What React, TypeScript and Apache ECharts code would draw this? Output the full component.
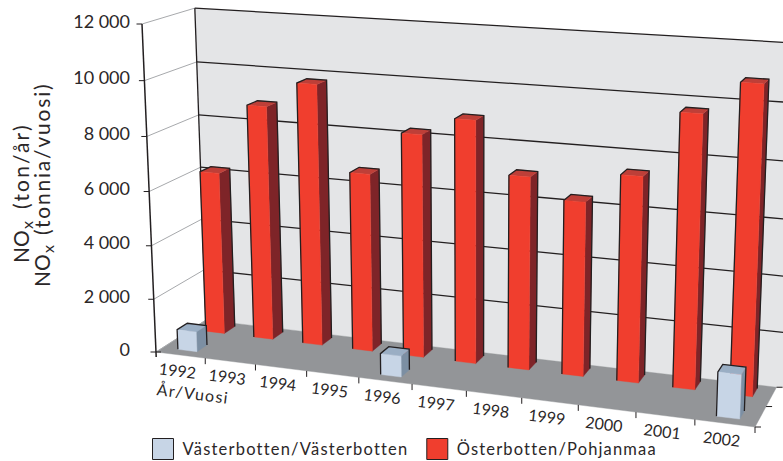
import React, { useEffect, useRef } from "react";
import * as echarts from "echarts";

const years = [1992, 1993, 1994, 1995, 1996, 1997, 1998, 1999, 2000, 2001, 2002];
const osterbotten = [6150, 8780, 9725, 6610, 8200, 8860, 7010, 6290, 7360, 9660, 10800];
const vasterbotten: (number | null)[] = [750, null, null, null, 770, null, null, null, null, null, 1540];
const yTicks = [0, 2000, 4000, 6000, 8000, 10000, 12000];
const yTickLabels = ["0", "2 000", "4 000", "6 000", "8 000", "10 000", "12 000"];

const INK = "#231F20";
const TEXT = "#2b2728";
const FONT = "Lato";

// projective camera: image of the box corners
const GL = 156, GT = 24, GW = 599, GH = 328;
const A = [156, 352], E = [755, 427], B = [142, 24], C = [206, 320];
const sx = 0.896, sy = 0.958, sz = 1.0538;

function project(u: number, v: number, w: number): number[] {
  const W = 1 + u * (sx - 1) + v * (sy - 1) + w * (sz - 1);
  const x = A[0] + u * (sx * E[0] - A[0]) + v * (sy * B[0] - A[0]) + w * (sz * C[0] - A[0]);
  const y = A[1] + u * (sx * E[1] - A[1]) + v * (sy * B[1] - A[1]) + w * (sz * C[1] - A[1]);
  return [x / W, y / W];
}

function at(api: any, year: number, value: number, w: number): number[] {
  const c = api.coord([year, value]);
  return project((c[0] - GL) / GW, (GT + GH - c[1]) / GH, w);
}

function poly(points: number[][], fill: string) {
  return { type: "polygon", shape: { points }, style: { fill, stroke: fill, lineWidth: 0.4 } };
}
function line(points: number[][], stroke: string, lineWidth = 1.2) {
  return { type: "polyline", shape: { points }, style: { fill: "none", stroke, lineWidth } };
}
function label(text: string, x: number, y: number, fontSize: number, extra: any = {}) {
  return {
    type: "text",
    x,
    y,
    rotation: extra.rotation || 0,
    style: {
      text,
      fontFamily: FONT,
      fontSize,
      fill: TEXT,
      align: extra.align || "center",
      verticalAlign: "middle",
    },
  };
}

const BAR_FROM = 0.305, BAR_TO = 0.695;

function box(api: any, year: number, value: number, w0: number, w1: number, front: string, side: string, top: string) {
  const x0 = year + BAR_FROM, x1 = year + BAR_TO;
  const fl0 = at(api, x0, 0, w0), fr0 = at(api, x1, 0, w0), br0 = at(api, x1, 0, w1);
  const fl1 = at(api, x0, value, w0), fr1 = at(api, x1, value, w0);
  const br1 = at(api, x1, value, w1), bl1 = at(api, x0, value, w1);
  return {
    type: "group",
    children: [
      poly([fr0, br0, br1, fr1], side),
      poly([fl1, fr1, br1, bl1], top),
      poly([fl0, fr0, fr1, fl1], front),
      line([fl0, fl1, bl1, br1, br0], INK, 1.3),
    ],
  };
}

const TILT = (-7 * Math.PI) / 180;
const UP = Math.PI / 2;

function axisTitle(x: number, y0: number, yParen: number, rest: string) {
  return [
    label("NO", x, y0, 21, { rotation: UP, align: "left" }),
    label("x", x + 6, y0 - 34, 16, { rotation: UP, align: "left" }),
    label(rest, x, yParen, 21, { rotation: UP, align: "left" }),
  ];
}

function renderFrame(_p: any, api: any) {
  const first = years[0], end = years[years.length - 1] + 1;
  const over = end + 0.4;
  const children: any[] = [];
  const top = yTicks[yTicks.length - 1];
  // back wall and floor
  children.push(poly([at(api, first, 0, 1), at(api, first, top, 1), at(api, over, top, 1), at(api, over, 0, 1)], "#E4E5E7"));
  children.push(poly([at(api, first, 0, 0), at(api, first, 0, 1), at(api, end, 0, 1), at(api, end, 0, 0)], "#939598"));
  yTicks.forEach((t, i) => {
    const f = at(api, first, t, 0), b = at(api, first, t, 1);
    children.push(line([f, b], "#A7A9AC", 1));
    if (t > 0) children.push(line([b, at(api, over, t, 1)], INK, 1.3));
    children.push(line([f, [f[0] - 5.5, f[1]]], INK, 1));
    children.push(label(yTickLabels[i], 130, f[1] - 3.5, 18, { align: "right" }));
  });
  children.push(line([at(api, first, top, 1), at(api, first, 0, 1)], INK, 1.3));
  const axisFoot = at(api, first, 0, 0);
  children.push(line([at(api, first, top, 0), [axisFoot[0] + 0.2, axisFoot[1] + 5]], INK, 1.5));
  children.push(line([axisFoot, [axisFoot[0] + 5, axisFoot[1]]], INK, 1));
  // year ticks and labels along the front edge of the floor
  years.forEach((y) => {
    const t = at(api, y + 1, 0, 0);
    children.push(line([t, [t[0], t[1] + 6]], INK, 1));
    const m = at(api, y + 0.5, 0, 0);
    children.push(label(String(y), m[0] - 3, m[1] + 15, 16, { rotation: TILT }));
  });
  // depth ticks on the right edge of the floor
  [0, 0.5, 1].forEach((w) => {
    const t = at(api, end, 0, w);
    children.push(line([t, [t[0] + 6, t[1]]], INK, 1));
  });
  children.push(label("År/Vuosi", 193, 393, 16, { rotation: TILT }));
  children.push(...axisTitle(20, 263, 209, "(ton/år)"));
  children.push(...axisTitle(41, 287, 235, "(tonnia/vuosi)"));
  return { type: "group", children };
}

function renderRed(_p: any, api: any) {
  return box(api, api.value(0), api.value(1), 0.695, 0.915, "#F03E2E", "#7E2428", "#BE3F38");
}
function renderBlue(_p: any, api: any) {
  return box(api, api.value(0), api.value(1), 0.135, 0.335, "#C7D5E6", "#7C8FA3", "#9AAEC4");
}

const SPACING: [string, string][] = [
  ["Västerbotten/Västerbotten", "1.2px"],
  ["Österbotten/Pohjanmaa", "1.15px"],
  ["År/Vuosi", "1.3px"],
  ["(ton/år)", "2.2px"],
  ["(tonnia/vuosi)", "1.8px"],
];

export default function App() {
  const ref = useRef<HTMLDivElement>(null);
  useEffect(() => {
    const chart = echarts.init(ref.current!, undefined, { renderer: "svg" });
    chart.setOption({
      animation: false,
      backgroundColor: "#fff",
      grid: { left: GL, top: GT, width: GW, height: GH },
      xAxis: { type: "value", min: years[0], max: years[years.length - 1] + 1, show: false },
      yAxis: { type: "value", min: yTicks[0], max: yTicks[yTicks.length - 1], interval: 2000, show: false },
      legend: {
        left: 152,
        top: 438,
        padding: 0,
        icon: "rect",
        itemWidth: 21,
        itemHeight: 21,
        itemGap: 49,
        data: ["Västerbotten/Västerbotten", "Österbotten/Pohjanmaa"],
        itemStyle: { borderColor: INK, borderWidth: 1 },
        textStyle: { fontFamily: FONT, fontSize: 16.5, color: TEXT, padding: [7, 0, 0, 4] },
        selectedMode: false,
      },
      series: [
        { type: "custom", name: "frame", z: 1, renderItem: renderFrame, data: [[years[0]]], silent: true },
        {
          type: "custom",
          name: "Österbotten/Pohjanmaa",
          z: 2,
          renderItem: renderRed,
          itemStyle: { color: "#F03E2E" },
          encode: { x: 0, y: 1 },
          data: years.map((y, i) => [y, osterbotten[i]]),
        },
        {
          type: "custom",
          name: "Västerbotten/Västerbotten",
          z: 3,
          renderItem: renderBlue,
          itemStyle: { color: "#C7D5E6" },
          encode: { x: 0, y: 1 },
          data: years.map((y, i) => [y, vasterbotten[i]]).filter((d) => d[1] !== null),
        },
      ],
    });
    // the reference's legend and axis names are letter-spaced
    ref.current!.querySelectorAll("text").forEach((t) => {
      const s = (t.textContent || "").trim();
      const hit = SPACING.find((e) => e[0] === s);
      if (hit) t.style.letterSpacing = hit[1];
    });
    return () => chart.dispose();
  }, []);
  return <div ref={ref} style={{ position: "absolute", left: 0, top: 0, width: 783, height: 461 }} />;
}
